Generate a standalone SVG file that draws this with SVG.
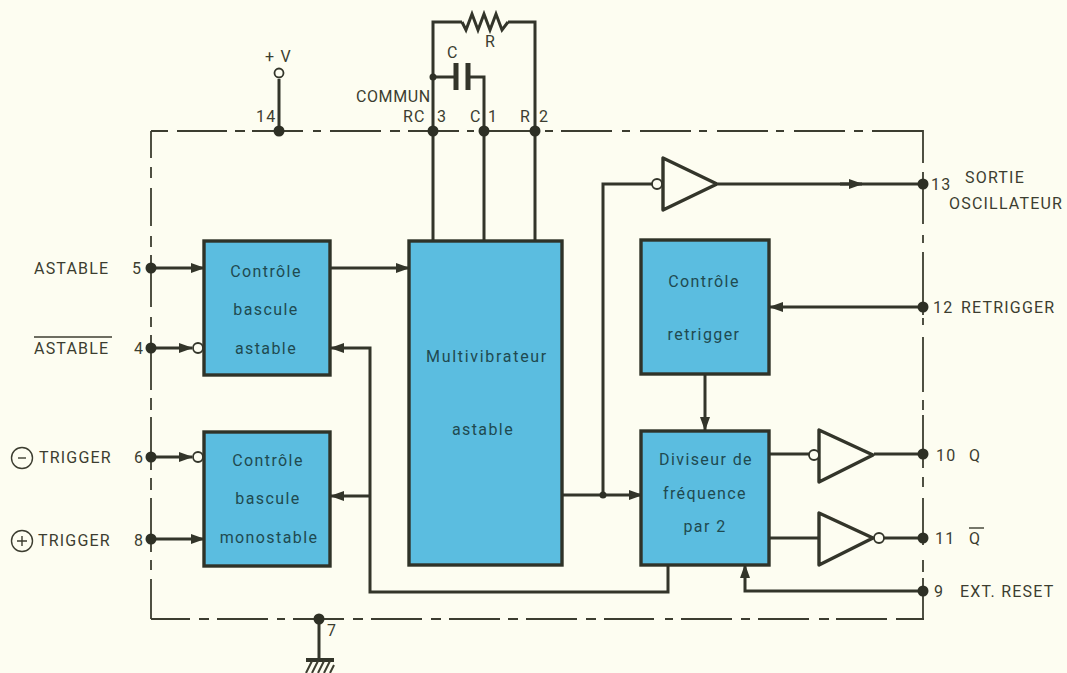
<svg xmlns="http://www.w3.org/2000/svg" width="1067" height="673" viewBox="0 0 1067 673">
<style>
text{font-family:Roboto,"Liberation Sans",Arial,sans-serif;font-size:16px;fill:#3c3d30;letter-spacing:1.2px}
.in{fill:#1f4a50;font-size:16px;letter-spacing:1.4px;text-anchor:middle}
.box{fill:#5bbde0;stroke:#2f3328;stroke-width:3.4}
.w{fill:none;stroke:#33352a;stroke-width:3;stroke-linejoin:miter}
.b{fill:none;stroke:#3c3d30;stroke-width:1.8}
.t{fill:#fdfdf1;stroke:#33352a;stroke-width:3.4;stroke-linejoin:round}
.d{fill:#2e3025}
.o{fill:#fdfdf1;stroke:#33352a;stroke-width:1.8}
.th{fill:none;stroke:#3c3d30;stroke-width:1.4}
</style>
<defs>
<marker id="a" markerUnits="userSpaceOnUse" markerWidth="15" markerHeight="12" refX="13" refY="5.5" orient="auto"><path d="M0 0.5L14 5.5L0 10.5Z" fill="#33352a"/></marker>
</defs>
<rect width="1067" height="673" fill="#fdfdf1"/>
<g id="boundary">
<path class="b" d="M151 131H168M177 131H227M235 131H245M252 131H303M313 131H321M330 131H381M390 131H400M408 131H459M467 131H474M479 131H540M545 131H553M561 131H612M622 131H630M640 131H691M699 131H707M717 131H768M776 131H784M794 131H845M854 131H863M872 131H923"/>
<path class="b" d="M923 130V163M923 172V224M923 235V243M923 252V315M923 318V325M923 337V392M923 400V410M923 415V468M923 477V487M923 498V545M923 560V572M923 578V619"/>
<path class="b" d="M151 619H190M199 619H209M217 619H268M277 619H285M293 619H344M353 619H363M371 619H422M431 619H441M449 619H500M508 619H518M526 619H577M586 619H596M604 619H654M665 619H673M681 619H732M741 619H750M758 619H809M819 619H829M836 619H887M896 619H924"/>
<path class="b" d="M151 131V158M151 167V178M151 188V226M151 236V247M151 255V307M151 317V327M151 335V390M151 398V410M151 417V470M151 478V490M151 498V552M151 560V570M151 579V619"/>
</g>
<g id="connectors">
<path class="w" d="M279 79V131"/>
<path class="w" d="M433 240V22H462"/>
<path class="w" d="M508 22H535V240"/>
<path class="w" d="M462 22l4 8 6-16 6 16 6-16 6 16 6-16 6 16 6-8"/>
<path class="w" d="M433 77H454"/>
<path class="w" d="M470 77H484V240"/>
<path class="w" d="M151 268H204" marker-end="url(#a)"/>
<path class="w" d="M151 348H192" marker-end="url(#a)"/>
<path class="w" d="M151 457H192" marker-end="url(#a)"/>
<path class="w" d="M151 539H204" marker-end="url(#a)"/>
<path class="w" d="M331 268H409" marker-end="url(#a)"/>
<path class="w" d="M563 495H642" marker-end="url(#a)"/>
<path class="w" d="M603 495V184H653"/>
<path class="w" d="M718 184H923"/>
<path class="w" d="M840 184H862" marker-end="url(#a)"/>
<path class="w" d="M923 307H770" marker-end="url(#a)"/>
<path class="w" d="M705 375V430" marker-end="url(#a)"/>
<path class="w" d="M769 454H810"/>
<path class="w" d="M874 454H923"/>
<path class="w" d="M769 538H819"/>
<path class="w" d="M884 538H923"/>
<path class="w" d="M923 591H745V565" marker-end="url(#a)"/>
<path class="w" d="M668 565V592H370V348H331" marker-end="url(#a)"/>
<path class="w" d="M370 496H331" marker-end="url(#a)"/>
<path class="w" d="M319 619V660"/>
<path class="w" d="M306 660H334" style="stroke-width:4"/>
<path class="th" style="stroke-width:2" d="M306 673l6-12M312 673l6-12M318 673l6-12M324 673l6-12M330 673l4-8"/>
</g>
<g id="dots">
<circle class="d" cx="279" cy="131" r="5.5"/><circle class="d" cx="433" cy="131" r="5.5"/><circle class="d" cx="484" cy="131" r="5.5"/><circle class="d" cx="535" cy="131" r="5.5"/>
<circle class="d" cx="433" cy="77" r="3.5"/><circle class="d" cx="603" cy="495" r="3.5"/>
<circle class="d" cx="151" cy="268" r="5.5"/><circle class="d" cx="151" cy="348" r="5.5"/><circle class="d" cx="151" cy="457" r="5.5"/><circle class="d" cx="151" cy="539" r="5.5"/>
<circle class="d" cx="923" cy="184" r="5.5"/><circle class="d" cx="923" cy="307" r="5.5"/><circle class="d" cx="923" cy="454" r="5.5"/><circle class="d" cx="923" cy="538" r="5.5"/><circle class="d" cx="923" cy="591" r="5.5"/>
<circle class="d" cx="319" cy="619" r="5.5"/>
<circle class="o" cx="279" cy="73" r="4.5"/>
</g>
<g id="capacitor"><path d="M456 63V90M468 63V90" fill="none" stroke="#33352a" stroke-width="5"/></g>
<g id="ctrl-astable"><rect class="box" x="204" y="241" width="126" height="134"/><text class="in" x="266" y="277">Contrôle</text><text class="in" x="266" y="315">bascule</text><text class="in" x="266" y="354">astable</text></g>
<g id="ctrl-monostable"><rect class="box" x="204" y="432" width="126" height="134"/><text class="in" x="268" y="466">Contrôle</text><text class="in" x="268" y="504">bascule</text><text class="in" x="269" y="543">monostable</text></g>
<g id="multivibrateur"><rect class="box" x="409" y="241" width="153" height="324"/><text class="in" x="487" y="362" style="letter-spacing:1.7px">Multivibrateur</text><text class="in" x="483" y="435">astable</text></g>
<g id="ctrl-retrigger"><rect class="box" x="641" y="240" width="128" height="134"/><text class="in" x="704" y="287">Contrôle</text><text class="in" x="704" y="340">retrigger</text></g>
<g id="diviseur"><rect class="box" x="641" y="431" width="128" height="134"/><text class="in" x="706" y="465">Diviseur de</text><text class="in" x="705" y="499">fréquence</text><text class="in" x="705" y="532">par 2</text></g>
<g id="buf-13"><path class="t" d="M663 158V210L717 184Z"/><circle class="o" cx="657" cy="184" r="5"/></g>
<g id="buf-10"><path class="t" d="M819 430V482L873 455Z"/><circle class="o" cx="814" cy="455" r="5"/></g>
<g id="buf-11"><path class="t" d="M819 513V565L873 538Z"/><circle class="o" cx="879" cy="538" r="5"/></g>
<g id="bubbles"><circle class="o" cx="198" cy="348" r="5"/><circle class="o" cx="198" cy="457" r="5"/></g>
<g id="labels">
<text x="265" y="62">+ V</text><text x="256" y="122">14</text>
<text x="447" y="58">C</text><text x="485" y="47">R</text>
<text x="356" y="102" style="letter-spacing:.6px">COMMUN</text>
<text x="403" y="122">RC</text><text x="437" y="122">3</text><text x="470" y="122">C</text><text x="488" y="122">1</text><text x="520" y="122">R</text><text x="539" y="122">2</text>
<text x="34" y="274">ASTABLE</text><text x="132" y="274">5</text>
<text x="34" y="354">ASTABLE</text><path class="th" d="M34 337H112"/><text x="134" y="354">4</text>
<circle class="th" cx="22" cy="458" r="10.5"/><path class="th" d="M18 458H26"/><text x="39" y="463">TRIGGER</text><text x="134" y="463">6</text>
<circle class="th" cx="22" cy="541" r="10.5"/><path class="th" d="M17 541H27M22 536V546"/><text x="38" y="546">TRIGGER</text><text x="134" y="546">8</text>
<text x="931" y="190">13</text><text x="965" y="183">SORTIE</text><text x="949" y="209">OSCILLATEUR</text>
<text x="933" y="313">12</text><text x="961" y="313">RETRIGGER</text>
<text x="936" y="461">10</text><text x="969" y="461">Q</text>
<text x="935" y="544">11</text><text x="969" y="544">Q</text><path class="th" d="M969 528H984"/>
<text x="934" y="597">9</text><text x="960" y="597">EXT. RESET</text>
<text x="327" y="636">7</text>
</g>
</svg>
